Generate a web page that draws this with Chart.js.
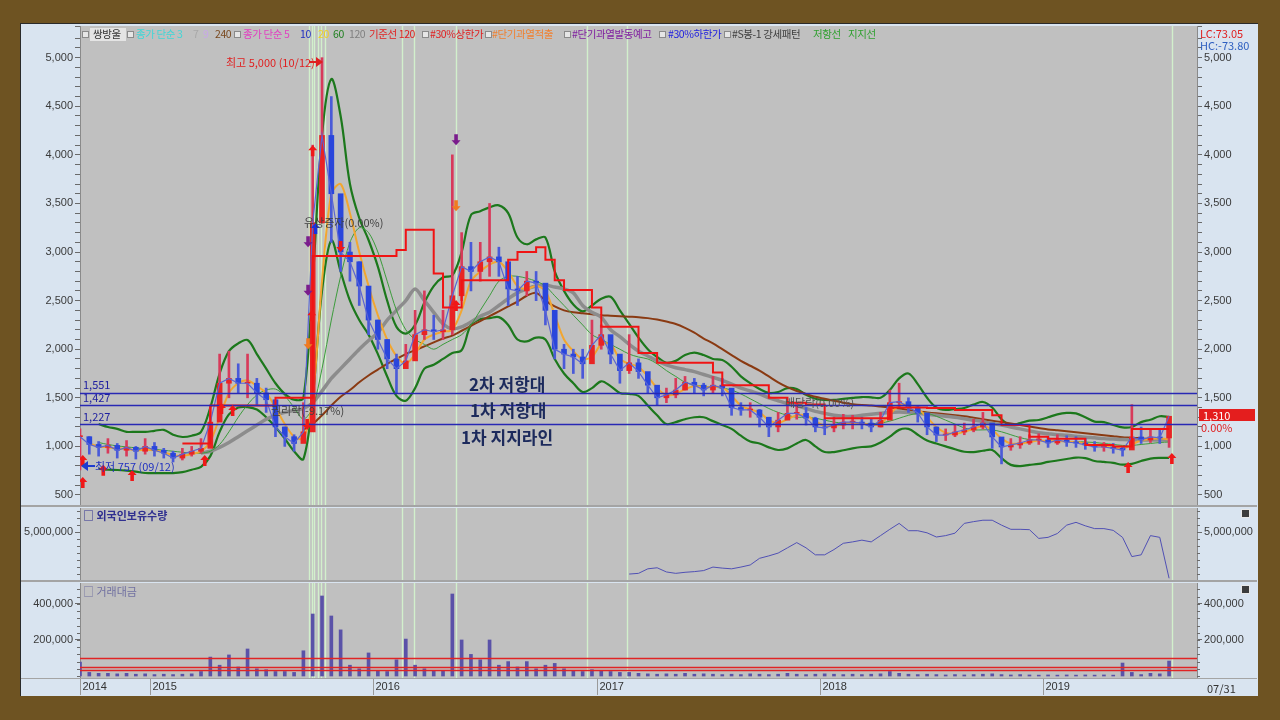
<!DOCTYPE html>
<html><head><meta charset="utf-8">
<script src="https://cdn.jsdelivr.net/npm/chart.js@4.4.1/dist/chart.umd.min.js"></script>
<style>
html,body{margin:0;padding:0;}
body{width:1280px;height:720px;background:#6E5322;position:relative;overflow:hidden;font-family:"Noto Sans CJK KR","Noto Sans",sans-serif;}
#frame{position:absolute;left:20px;top:23px;width:1238px;height:673px;background:#D9E4F0;border-left:1px solid #2a2a2a;border-top:1px solid #2a2a2a;box-sizing:border-box;}
.cv{position:absolute;left:22px;width:1234px;}
.t{position:absolute;white-space:nowrap;font-size:11px;line-height:12px;}
.lg{position:absolute;white-space:nowrap;font-size:10.5px;line-height:12px;top:28px;letter-spacing:-0.4px;}
.bx{position:absolute;top:31px;width:5px;height:5px;border:1px solid #8a8a8a;background:#e6e6e6;}
.sep{position:absolute;left:21px;width:1236px;height:2px;background:#A4A4A4;}
.big{position:absolute;white-space:nowrap;font-size:17px;font-weight:700;color:#1C2A5C;line-height:20px;}
.ico{position:absolute;width:7px;height:7px;background:#3c3c3c;border:1px solid #e8e8e8;}
</style></head><body>
<div id="frame"></div>
<div class="cv" style="top:26px;height:479px"><canvas id="c1"></canvas></div>
<div class="cv" style="top:508px;height:72px"><canvas id="c2"></canvas></div>
<div class="cv" style="top:583px;height:112px"><canvas id="c3"></canvas></div>
<div class="sep" style="top:505px"></div>
<div class="sep" style="top:580px"></div>
<div class="sep" style="top:678px;height:1px"></div>

<!-- legend -->
<div style="position:absolute;left:90px;top:28px;width:36px;height:13px;background:#E4E4E4"></div>
<div class="bx" style="left:82px"></div>
<div class="lg" style="left:93px;color:#333">쌍방울</div>
<div class="bx" style="left:127px"></div>
<div class="lg" style="left:136px;color:#40D6D6">종가 단순 3</div>
<div class="lg" style="left:193px;color:#A8A8A8">7</div>
<div class="lg" style="left:203px;color:#C8A8E8">9</div>
<div class="lg" style="left:215px;color:#7A4A20">240</div>
<div class="bx" style="left:234px"></div>
<div class="lg" style="left:243px;color:#E040C0">종가 단순 5</div>
<div class="lg" style="left:300px;color:#2030C0">10</div>
<div class="lg" style="left:318px;color:#F0D020">20</div>
<div class="lg" style="left:333px;color:#208020">60</div>
<div class="lg" style="left:349px;color:#808080">120</div>
<div class="lg" style="left:369px;color:#E02020">기준선 120</div>
<div class="bx" style="left:422px"></div>
<div class="lg" style="left:430px;color:#E02020">#30%상한가</div>
<div class="bx" style="left:485px"></div>
<div class="lg" style="left:492px;color:#F08030">#단기과열적출</div>
<div class="bx" style="left:564px"></div>
<div class="lg" style="left:572px;color:#8020A0">#단기과열발동예고</div>
<div class="bx" style="left:659px"></div>
<div class="lg" style="left:668px;color:#2020E0">#30%하한가</div>
<div class="bx" style="left:724px"></div>
<div class="lg" style="left:732px;color:#404040">#S봉-1 강세패턴</div>
<div class="lg" style="left:813px;color:#30A030">저항선</div>
<div class="lg" style="left:848px;color:#30A030">지지선</div>

<!-- right column labels -->
<div class="t" style="left:1200px;top:27px;color:#E02020">LC:73.05</div>
<div class="t" style="left:1200px;top:39px;color:#2E5FC0">HC:-73.80</div>
<div class="t" style="left:1199px;top:409px;width:52px;height:12px;background:#E41E1E;color:#fff;padding-left:4px">1,310</div>
<div class="t" style="left:1201px;top:421px;color:#E02020">0.00%</div>
<div class="t" style="left:1207px;top:682px;color:#333">07/31</div>
<div class="ico" style="left:1241px;top:509px"></div>
<div class="ico" style="left:1241px;top:585px"></div>

<!-- annotations -->
<div class="t" style="left:226px;top:56px;color:#E02020">최고 5,000 (10/12)</div>
<div style="position:absolute;left:309px;top:61px;width:8px;height:2px;background:#E02020"></div>
<div style="position:absolute;left:316px;top:57px;width:0;height:0;border-top:5px solid transparent;border-bottom:5px solid transparent;border-left:7px solid #E02020"></div>
<div style="position:absolute;left:81px;top:461px;width:0;height:0;border-top:5px solid transparent;border-bottom:5px solid transparent;border-right:7px solid #1E3CD0"></div>
<div style="position:absolute;left:87px;top:465px;width:8px;height:2px;background:#1E3CD0"></div>
<div class="t" style="left:95px;top:460px;color:#2030C0">최저 757 (09/12)</div>
<div class="t" style="left:304px;top:216px;color:#404040">유상증자(0.00%)</div>
<div class="t" style="left:271px;top:404px;color:#404040">권리락(-9.17%)</div>
<div class="t" style="left:785px;top:396px;color:#505050">배당락(0.00%)</div>
<div class="t" style="left:83px;top:378px;color:#2020A0">1,551</div>
<div class="t" style="left:83px;top:391px;color:#2020A0">1,427</div>
<div class="t" style="left:83px;top:410px;color:#2020A0">1,227</div>
<div class="big" style="left:469px;top:374px">2차 저항대</div>
<div class="big" style="left:470px;top:400px">1차 저항대</div>
<div class="big" style="left:461px;top:427px">1차 지지라인</div>
<div class="t" style="left:83px;top:509px;color:#303090;font-weight:700">□ 외국인보유수량</div>
<div class="t" style="left:83px;top:585px;color:#7070A0">□ 거래대금</div>

<script>
// ---------- categories: half-month slots from 2014-09 to 2019-09 ----------
const labels = [];
(function(){ let y=2014, m=9;
  while(labels.length<121){ const mm=String(m).padStart(2,'0');
    labels.push(y+'-'+mm+'-01'); if(labels.length<121) labels.push(y+'-'+mm+'-16');
    m++; if(m>12){m=1;y++;} } })();

// ---------- price data (KRW) ----------
const close = [1100,1020,990,1010,960,990,950,1000,960,930,
 880,920,950,980,1250,1650,1700,1650,1650,1550,
 1480,1200,1100,1030,1150,3300,4200,3600,3000,2900,
 2650,2300,2100,1900,1800,1880,2150,2200,2180,2200,
 2550,2850,2800,2900,2950,2900,2620,2600,2700,2680,
 2400,2000,1950,1920,1850,2040,2150,1950,1780,1860,
 1770,1630,1500,1530,1580,1660,1630,1580,1630,1600,
 1400,1375,1375,1300,1200,1270,1340,1340,1290,1200,
 1190,1220,1250,1250,1240,1200,1270,1450,1460,1405,
 1344,1200,1117,1117,1148,1169,1200,1240,1097,994,
 1015,1035,1066,1066,1035,1066,1045,1035,1015,994,
 994,980,963,1097,1066,1097,1087,1310];
const high = [1180,1100,1050,1080,1030,1060,1000,1080,1040,980,
 950,980,1000,1080,1400,1950,1980,1850,1950,1700,
 1600,1380,1200,1120,1450,4100,5000,4600,3400,3100,
 2900,2500,2300,2100,1950,2050,2400,2600,2350,2400,
 4000,3200,3100,3100,3500,3050,2800,2750,2800,2800,
 2600,2250,2050,2000,2000,2300,2250,2100,1900,2150,
 1900,1750,1600,1600,1700,1720,1700,1650,1720,1700,
 1500,1450,1450,1380,1300,1350,1420,1450,1400,1300,
 1280,1300,1330,1320,1300,1280,1350,1580,1650,1500,
 1420,1300,1200,1180,1220,1240,1280,1350,1200,1050,
 1080,1100,1120,1130,1100,1120,1110,1100,1080,1050,
 1040,1030,1000,1430,1200,1180,1180,1310];
const low = [757,920,900,930,880,900,870,920,900,880,
 840,860,900,930,1000,1350,1500,1550,1500,1430,
 1350,1100,1000,950,1050,1500,3300,3100,2800,2700,
 2450,2150,2000,1800,1550,1800,1950,2100,2100,2100,
 2150,2500,2600,2700,2750,2750,2450,2450,2550,2500,
 2250,1900,1800,1750,1700,1900,2000,1850,1650,1750,
 1700,1550,1420,1450,1500,1580,1550,1520,1550,1520,
 1320,1320,1300,1200,1100,1150,1280,1280,1220,1150,
 1120,1150,1180,1180,1180,1150,1200,1300,1400,1350,
 1250,1120,1050,1060,1100,1120,1150,1180,980,820,
 960,980,1020,1020,990,1020,1000,990,970,950,
 950,930,900,1000,1030,1040,1030,990];
const ma20 = [null,1030,1000,990,980,975,960,965,960,940,
 910,905,920,950,1050,1300,1550,1650,1680,1620,
 1550,1400,1230,1100,1080,1500,2700,3600,3700,3400,
 3000,2650,2350,2100,1930,1850,1950,2100,2150,2180,
 2200,2400,2700,2800,2870,2900,2800,2650,2620,2650,
 2600,2350,2100,1980,1900,1920,2050,2050,1900,1850,
 1820,1720,1600,1530,1540,1590,1620,1610,1610,1610,
 1520,1420,1380,1350,1270,1240,1280,1320,1320,1260,
 1210,1210,1230,1240,1240,1220,1230,1330,1420,1430,
 1390,1300,1200,1140,1130,1150,1180,1210,1170,1080,
 1030,1030,1045,1060,1055,1055,1050,1045,1030,1010,
 1000,990,975,1020,1060,1075,1085,1070];
const ma60 = [null,null,1040,1020,1005,995,985,975,970,960,
 950,940,930,930,950,1020,1150,1300,1430,1530,
 1580,1590,1520,1400,1280,1400,1800,2300,2750,3100,
 3250,3200,3000,2700,2400,2200,2100,2050,2000,2050,
 2100,2150,2250,2400,2550,2700,2750,2750,2730,2700,
 2650,2550,2450,2350,2250,2150,2100,2050,2000,1950,
 1920,1900,1850,1780,1720,1660,1630,1620,1610,1600,
 1580,1540,1490,1440,1390,1350,1320,1300,1300,1290,
 1270,1250,1240,1235,1235,1235,1240,1260,1290,1320,
 1340,1340,1310,1270,1230,1190,1170,1170,1170,1150,
 1120,1090,1070,1060,1050,1050,1050,1050,1045,1040,
 1030,1020,1010,1010,1020,1030,1040,1045];
const ma120 = [null,null,null,null,null,null,null,null,null,null,
 null,null,null,930,950,990,1040,1100,1160,1220,
 1280,1320,1350,1370,1390,1450,1570,1700,1800,1900,
 2000,2090,2170,2300,2400,2500,2620,2500,2380,2260,
 2210,2230,2280,2340,2380,2450,2520,2580,2620,2650,
 2660,2640,2620,2580,2450,2380,2330,2200,2130,2050,
 1980,1930,1880,1840,1810,1790,1770,1740,1710,1680,
 1640,1600,1570,1540,1500,1470,1440,1420,1390,1360,
 1340,1320,1310,1310,1320,1330,1340,1350,1355,1350,
 1340,1330,1320,1310,1300,1285,1270,1255,1235,1220,
 1200,1180,1160,1140,1130,1120,1115,1105,1095,1088,
 1080,1075,1070,1068,1066,1065,1065,1065];
const ma240 = [null,null,null,null,null,null,null,null,null,null,
 null,null,null,null,null,null,null,null,null,null,
 null,null,null,null,1170,1230,1320,1420,1510,1580,
 1660,1730,1790,1850,1900,1950,1990,2030,2070,2110,
 2140,2190,2240,2290,2340,2390,2440,2490,2550,2580,
 2500,2440,2400,2380,2370,2360,2350,2345,2340,2335,
 2330,2320,2305,2285,2260,2220,2170,2110,2060,2000,
 1940,1880,1830,1780,1720,1660,1610,1570,1540,1510,
 1490,1470,1450,1435,1425,1420,1410,1400,1390,1375,
 1360,1350,1340,1330,1320,1310,1295,1280,1265,1250,
 1235,1220,1205,1190,1175,1165,1155,1145,1135,1125,
 1115,1105,1095,1090,1082,1075,1070,1065];
const baseLine = [null,null,null,null,null,null,null,null,null,null,
 null,1030,1030,1030,1420,1420,1420,1420,1420,1420,
 1420,1500,1500,1500,1500,2960,2960,2960,2960,2960,
 2960,2960,2960,2960,3020,3230,3230,3230,2780,2430,
 2430,2710,2710,2710,2710,2710,2920,3000,3000,3050,
 2920,2710,2610,2610,2610,2430,2230,2230,2230,2230,
 1960,1960,1860,1860,1860,1860,1860,1860,1760,1630,
 1630,1630,1630,1630,1500,1500,1450,1450,1430,1430,
 1290,1290,1290,1290,1290,1290,1290,1400,1400,1400,
 1400,1395,1395,1395,1375,1375,1375,1375,1320,1220,
 1220,1220,1100,1100,1080,1080,1080,1080,1015,1015,
 1015,1000,1000,1180,1180,1180,1180,1180];
const bandUpper = [null,null,1230,1200,1180,1150,1150,1150,1160,1170,
 1120,1097,1110,1150,1400,1750,1980,2060,2095,1950,
 1800,1650,1540,1480,1500,2700,4200,4780,4400,3700,
 3350,3124,2850,2500,2230,2160,2250,2480,2650,2740,
 2760,3000,3380,3420,3460,3480,3400,3150,3080,3130,
 3150,2800,2600,2460,2390,2450,2520,2540,2400,2260,
 2120,2000,1920,1860,1880,1940,1965,1940,1900,1889,
 1820,1720,1650,1590,1550,1560,1600,1590,1530,1490,
 1478,1478,1490,1500,1508,1505,1500,1580,1700,1750,
 1640,1500,1400,1375,1385,1395,1430,1457,1400,1280,
 1220,1240,1265,1272,1300,1330,1344,1340,1300,1255,
 1250,1220,1195,1200,1250,1275,1310,1303];
const bandLower = [null,null,770,760,757,750,740,726,726,726,
 726,735,760,790,900,1150,1330,1400,1405,1380,
 1300,1200,1080,950,870,1500,2600,3120,2800,2500,
 2300,2150,1950,1720,1520,1470,1600,1800,1840,1900,
 1960,1990,2250,2310,2320,2330,2250,2100,2080,2120,
 2100,1900,1750,1650,1560,1600,1670,1620,1550,1540,
 1520,1420,1320,1230,1250,1280,1300,1300,1260,1220,
 1180,1110,1050,1030,990,963,980,1030,1066,1000,
 942,942,960,980,994,1000,1040,1100,1170,1180,
 1120,1060,1030,1000,970,945,942,955,963,880,
 810,798,810,820,840,855,870,885,880,850,
 840,830,812,820,850,875,882,881];
const priceLevels = [1551, 1427, 1227];

// ---------- foreign holdings (shares), starts 2017-02-16 ----------
const foreignStart = 59;
const foreignVals = [3800000,3820000,3950000,3980000,3860000,3820000,3850000,3870000,3900000,4000000,
 3970000,3950000,4000000,4060000,4250000,4320000,4400000,4550000,4700000,4550000,
 4350000,4350000,4500000,4680000,4720000,4770000,4720000,4900000,5080000,5250000,
 5040000,5040000,4980000,4860000,4900000,4970000,5250000,5300000,5340000,5340000,
 5200000,5080000,5080000,5070000,4820000,4850000,4960000,5200000,5280000,5180000,
 5100000,5100000,5050000,4850000,4300000,4350000,4900000,4850000,3680000];
const foreignTicks = [5000000];

// ---------- trading value ----------
const volume = [78000,20000,15000,15000,12000,15000,10000,12000,8000,10000,
 8000,10000,12000,25000,105000,60000,117000,50000,150000,40000,
 35000,25000,25000,20000,140000,344000,444000,333000,256000,60000,
 40000,128000,30000,25000,90000,205000,60000,40000,30000,30000,
 455000,200000,120000,90000,200000,60000,80000,50000,80000,40000,
 60000,70000,40000,30000,25000,35000,30000,25000,20000,20000,
 15000,12000,10000,12000,10000,15000,10000,12000,10000,8000,
 10000,8000,12000,10000,8000,10000,15000,10000,8000,10000,
 12000,10000,8000,10000,8000,10000,12000,25000,15000,10000,
 8000,10000,8000,6000,8000,6000,8000,10000,12000,8000,
 6000,8000,6000,5000,6000,5000,6000,5000,6000,5000,
 6000,5000,72000,20000,8000,15000,12000,83000];
const volumeLevels = [100000, 50000, 33000];
const volumeTicks = [200000, 400000];

// ---------- signals / markers (positions in slot units) ----------
const signalIdx = [24.6,24.9,25.1,25.6,25.9,26.3,34.6,35.9,40.4,54.5,58.8,117.3];
const arrowIdx  = [0.3,0.3,2.5,5.6,13.4,15.2,16.4,24.9,25.0,40.4,112.6,117.3, 24.4,28.0, 24.5,24.5,40.4, 24.5,40.4, 25.3];
const arrowVal  = [912,685,810,757,912,1447,1426,2400,4100,2507,840,932, 1170,3000, 3050,2550,4100, 2000,3420, 3300];
const arrowKind = ['ru','ru','ru','ru','ru','ru','ru','ru','ru','ru','ru','ru','rd','rd','pd','pd','pd','od','od','bu'];

// ---------- build ----------
const yearMarks = [{pos:0,label:'2014'}];
labels.forEach((l,i)=>{ if(l.endsWith('-01-01')) yearMarks.push({pos:i-0.5,label:l.slice(0,4)}); });
const wick = high.map((h,i)=>[low[i],h]);
const body = close.map((c,i)=>{ const o = i ? close[i-1] : c; return [Math.min(o,c), Math.max(o,c)]; });
const candleCol = close.map((c,i)=> (i===0 || c>=close[i-1]) ? '#E82424' : '#2A46DC');
const wickCol = close.map((c,i)=> (i===0 || c>=close[i-1]) ? '#D83A5A' : '#4A5AD8');
const foreign = Array(foreignStart).fill(null).concat(foreignVals);

Chart.defaults.font.family = "'Liberation Sans', Arial, sans-serif";
Chart.defaults.font.size = 11;
Chart.defaults.color = '#333';

const arrowCol = {ru:'#F01818', rd:'#F01818', pd:'#7A1C8C', od:'#F07A20', bu:'#1830E0'};
function drawArrow(c, x, y, s, col){
  c.fillStyle = col; c.beginPath();
  c.moveTo(x, y); c.lineTo(x+4.5, y+5*s); c.lineTo(x+1.8, y+5*s); c.lineTo(x+1.8, y+11*s);
  c.lineTo(x-1.8, y+11*s); c.lineTo(x-1.8, y+5*s); c.lineTo(x-4.5, y+5*s); c.closePath(); c.fill();
}

function panelPlugin(o){
  return {
    id: 'panel',
    beforeDraw(ch){
      const a = ch.chartArea, c = ch.ctx, xs = ch.scales.x;
      c.save();
      c.fillStyle = '#C0C0C0'; c.fillRect(a.left, a.top, a.right-a.left, a.bottom-a.top);
      c.strokeStyle = '#D2F0CC'; c.lineWidth = 1.4;
      signalIdx.forEach(v=>{ const x = Math.round(xs.getPixelForValue(v))+0.5;
        c.beginPath(); c.moveTo(x, a.top); c.lineTo(x, a.bottom); c.stroke(); });
      c.restore();
    },
    afterDatasetsDraw(ch){
      const a = ch.chartArea, c = ch.ctx, xs = ch.scales.x, ys = ch.scales.y;
      c.save();
      c.beginPath(); c.rect(a.left, a.top, a.right-a.left, a.bottom-a.top); c.clip();
      (o.levels||[]).forEach(v=>{ const y = Math.round(ys.getPixelForValue(v))+0.5;
        c.strokeStyle = o.levelColor; c.lineWidth = 1.5;
        c.beginPath(); c.moveTo(a.left, y); c.lineTo(a.right, y); c.stroke(); });
      if(o.arrows){
        arrowIdx.forEach((ix,k)=>{ const kind = arrowKind[k];
          const x = xs.getPixelForValue(ix), y = ys.getPixelForValue(arrowVal[k]);
          drawArrow(c, x, y, kind[1]==='u' ? 1 : -1, arrowCol[kind]); });
      }
      c.restore();
    },
    afterDraw(ch){
      const a = ch.chartArea, c = ch.ctx, xs = ch.scales.x, ys = ch.scales.y;
      c.save();
      if(o.minorStep){
        c.strokeStyle = '#6a6a6a'; c.lineWidth = 1;
        for(let v = Math.ceil(ys.min/o.minorStep)*o.minorStep; v <= ys.max; v += o.minorStep){
          const y = Math.round(ys.getPixelForValue(v))+0.5;
          c.beginPath(); c.moveTo(a.left-3, y); c.lineTo(a.left, y);
          c.moveTo(a.right, y); c.lineTo(a.right+3, y); c.stroke();
        }
      }
      if(o.years){
        c.font = "11px 'Liberation Sans', Arial, sans-serif"; c.fillStyle = '#333'; c.textBaseline = 'middle';
        c.strokeStyle = '#9A9A9A'; c.lineWidth = 1;
        yearMarks.forEach(m=>{ const x = Math.round(xs.getPixelForValue(m.pos))+0.5;
          c.beginPath(); c.moveTo(x, a.bottom); c.lineTo(x, a.bottom+17); c.stroke();
          c.fillText(m.label, x+2, a.bottom+9); });
      }
      c.restore();
    }
  };
}

function yAxis(pos, min, max, step, isMajor, fixedTicks){
  const ax = {
    type:'linear', position:pos, min:min, max:max,
    afterFit(s){ s.width = pos==='left' ? 58 : 59; s.paddingTop = 0; s.paddingBottom = 0; },
    ticks:{ stepSize:step, autoSkip:false, padding:2, color:'#3a3a3a',
      callback:(v)=> isMajor(v) ? v.toLocaleString('en-US') : '' },
    grid:{ drawOnChartArea:false, drawTicks:true, tickLength:5, color:'#6a6a6a' },
    border:{ display:true, color:'#8a8a8a' }
  };
  if(fixedTicks){ ax.afterBuildTicks = (s)=>{ s.ticks = fixedTicks.map(v=>({value:v})); }; }
  return ax;
}
const xAxis = { type:'category', display:false, offset:false };
const common = { responsive:true, maintainAspectRatio:false, animation:false, devicePixelRatio:1,
  layout:{ padding:0 }, plugins:{ legend:{display:false}, tooltip:{enabled:false} } };

const line = (data, color, width, order, extra) => Object.assign({ type:'line', data, borderColor:color,
  borderWidth:width, pointRadius:0, tension:0.3, order, fill:false }, extra||{});

new Chart(document.getElementById('c1'), {
  type:'bar',
  data:{ labels, datasets:[
    { type:'bar', data:wick, backgroundColor:wickCol, barThickness:2, grouped:false, order:5 },
    { type:'bar', data:body, backgroundColor:candleCol, barThickness:5, grouped:false, minBarLength:1, order:4 },
    line(close, '#5A64D4', 1.2, 3, {tension:0}),
    line(ma20, '#F2A630', 2, 6),
    line(ma60, '#3C9C3C', 1, 7),
    line(ma120, '#8C8C8C', 3.5, 8),
    line(ma240, '#8A3A12', 2, 9),
    line(bandUpper, '#1C781C', 2.2, 10, {tension:0.35}),
    line(bandLower, '#1C781C', 2.2, 10, {tension:0.35}),
    line(baseLine, '#F01414', 2, 1, {stepped:true, tension:0})
  ]},
  options: Object.assign({}, common, { scales:{
    x: xAxis,
    y: yAxis('left', 397, 5326, 100, v=>v%500===0),
    y2: yAxis('right', 397, 5326, 100, v=>v%500===0)
  }}),
  plugins:[panelPlugin({levels:priceLevels, levelColor:'#2828B4', arrows:true})]
});

new Chart(document.getElementById('c2'), {
  type:'line',
  data:{ labels, datasets:[ line(foreign, '#5050B4', 1, 1, {tension:0}) ]},
  options: Object.assign({}, common, { scales:{
    x: xAxis,
    y: yAxis('left', 3630000, 5690000, 200000, v=>true, foreignTicks),
    y2: yAxis('right', 3630000, 5690000, 200000, v=>true, foreignTicks)
  }}),
  plugins:[panelPlugin({minorStep:200000})]
});

new Chart(document.getElementById('c3'), {
  type:'bar',
  data:{ labels, datasets:[ { data:volume, backgroundColor:'#5A52A8', barThickness:3 } ]},
  options: Object.assign({}, common, { layout:{padding:{bottom:17}}, scales:{
    x: xAxis,
    y: yAxis('left', -11000, 516000, 40000, v=>true, volumeTicks),
    y2: yAxis('right', -11000, 516000, 40000, v=>true, volumeTicks)
  }}),
  plugins:[panelPlugin({levels:volumeLevels, levelColor:'#E02424', years:true, minorStep:40000})]
});
</script>
</body></html>
